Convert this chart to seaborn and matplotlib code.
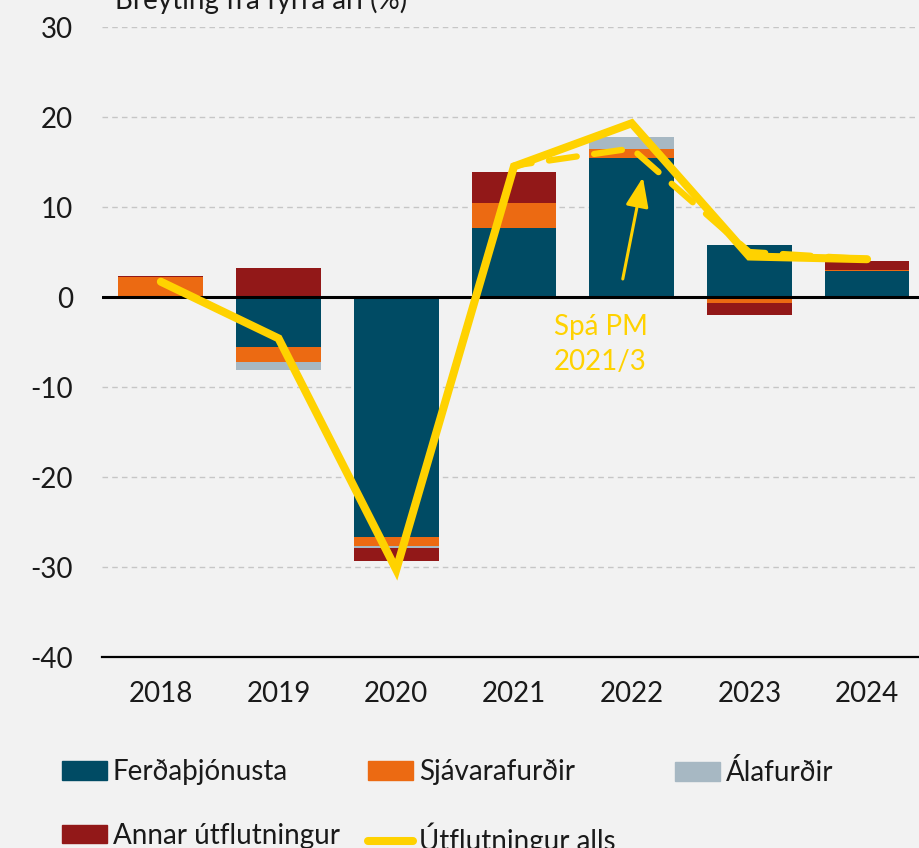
import numpy as np
import matplotlib
matplotlib.use('Agg')
import matplotlib.pyplot as plt
import seaborn as sns
from matplotlib.patches import Patch
from matplotlib.lines import Line2D

# Data (% change from previous year, contributions)
years = ['2018', '2019', '2020', '2021', '2022', '2023', '2024']
ferdathjonusta = [0.0, -5.5, -26.7, 7.7, 15.4, 5.8, 2.9]
sjavarafurdir = [2.2, -1.7, -1.0, 2.7, 1.0, -0.7, 0.15]
alafurdir = [-0.2, -0.9, -0.15, 0.1, 1.4, 0.0, 0.0]
annar = [0.1, 3.2, -1.45, 3.4, 0.0, -1.3, 0.95]
utflutningur_alls = [1.7, -4.6, -30.3, 14.5, 19.3, 4.5, 4.2]
spa_pm = [np.nan, np.nan, -30.3, 14.6, 16.5, 5.0, 4.2]

series = [
    ('Ferðaþjónusta', ferdathjonusta, '#004B64'),
    ('Sjávarafurðir', sjavarafurdir, '#EC6A12'),
    ('Álafurðir', alafurdir, '#A7B8C3'),
    ('Annar útflutningur', annar, '#921818'),
]
yellow = '#FFD200'
bg = '#F2F2F2'

sns.set_style('white')
plt.rcParams['font.family'] = ['Lato', 'DejaVu Sans']
plt.rcParams['font.size'] = 20
plt.rcParams['axes.unicode_minus'] = False

fig = plt.figure(figsize=(9.2, 8.48), dpi=100, facecolor=bg)
ax = fig.add_axes([102 / 920, 191 / 848, 7 * 117.7 / 920, 630 / 848])
ax.set_facecolor(bg)

# stacked bars, positives and negatives stacked separately
pos_bottom = np.zeros(len(years))
neg_bottom = np.zeros(len(years))
for name, vals, col in series:
    vals = np.array(vals, dtype=float)
    bottom = np.where(vals >= 0, pos_bottom, neg_bottom)
    sns.barplot(x=years, y=vals, bottom=bottom, color=col, saturation=1,
                width=0.72, errorbar=None, linewidth=0, ax=ax, zorder=2)
    pos_bottom += np.where(vals > 0, vals, 0)
    neg_bottom += np.where(vals < 0, vals, 0)

ax.axhline(0, color='black', lw=2.2, zorder=3)

x = np.arange(len(years))
sns.lineplot(x=x, y=spa_pm, color=yellow, linewidth=4.5, linestyle=(0, (4.5, 2.8)),
             dash_capstyle='round', ax=ax, zorder=4)
sns.lineplot(x=x, y=utflutningur_alls, color=yellow, linewidth=5.8,
             solid_capstyle='round', solid_joinstyle='miter', ax=ax, zorder=5)

# annotation for the forecast
ax.annotate('', xy=(4.10, 13.6), xytext=(3.92, 1.7),
            arrowprops=dict(arrowstyle='-|>,head_length=0.9,head_width=0.35',
                            color=yellow, lw=2.2), zorder=6)
ax.text(3.34, -5.3, 'Spá PM\n2021/3', color=yellow, fontsize=20,
        ha='left', va='center', linespacing=1.45)

ax.set_ylim(-40, 30)
ax.set_xlim(-0.5, 6.5)
ax.set_yticks(range(-40, 31, 10))
ax.yaxis.grid(True, color='#C6C6C6', linestyle=(0, (4, 3)), lw=1)
ax.set_axisbelow(True)
for s in ['left', 'right', 'top']:
    ax.spines[s].set_visible(False)
ax.spines['bottom'].set_color('black')
ax.spines['bottom'].set_linewidth(1.6)
ax.tick_params(axis='y', length=0, pad=21, labelsize=20, labelcolor='#1a1a1a')
ax.tick_params(axis='x', which='major', length=0, pad=17, labelsize=20, labelcolor='#1a1a1a')
ax.set_xticks(np.arange(-0.5, 7, 1), minor=True)
ax.tick_params(axis='x', which='minor', length=10, width=1.6, color='black')
ax.set_xlabel('')
ax.set_ylabel('')
if ax.get_legend():
    ax.get_legend().remove()

fig.text(115 / 920, 1 - 9 / 848, 'Breyting frá fyrra ári (%)', fontsize=20,
         ha='left', va='baseline', color='#1a1a1a')

# legend laid out as three fixed columns
cols = {n: c for n, _, c in series}
columns = [
    [Patch(color=cols['Ferðaþjónusta']), Patch(color=cols['Annar útflutningur'])],
    [Patch(color=cols['Sjávarafurðir']), Line2D([], [], color=yellow, lw=5.8, solid_capstyle='round')],
    [Patch(color=cols['Álafurðir'])],
]
labels = [['Ferðaþjónusta', 'Annar útflutningur'],
          ['Sjávarafurðir', 'Útflutningur alls'],
          ['Álafurðir']]
for i, (h, l) in enumerate(zip(columns, labels)):
    leg = fig.legend(h, l, loc='upper left',
                     bbox_to_anchor=((62 + i * 306.5) / 920, 1 - 759 / 848),
                     frameon=False, fontsize=20, borderpad=0, borderaxespad=0,
                     handlelength=1.62, handleheight=0.65, handletextpad=0.2,
                     labelspacing=1.35)
    for t in leg.get_texts():
        t.set_color('#1a1a1a')

fig.savefig('out.png', dpi=100, facecolor=bg)
